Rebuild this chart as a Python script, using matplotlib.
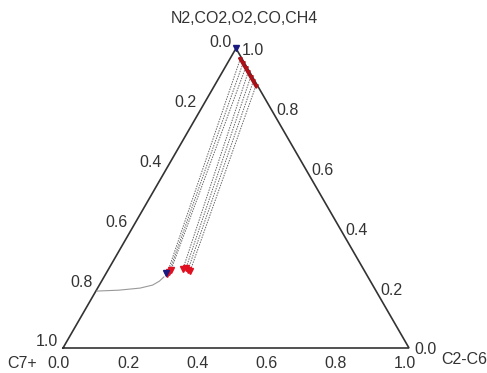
import matplotlib

matplotlib.use("Agg")

import numpy as np
import matplotlib.pyplot as plt

plt.rcParams['font.family'] = ['Liberation Sans', 'DejaVu Sans']

# fractions: top component (N2,CO2,O2,CO,CH4) and C2-C6; C7+ is the rest
vap_top = [0.965, 0.95, 0.935, 0.92, 0.905, 0.89, 0.875]
vap_c26 = [0.030, 0.045, 0.060, 0.075, 0.090, 0.105, 0.120]
liq_top = [0.247, 0.253, 0.260, 0.263, 0.267, 0.260, 0.257]
liq_c26 = [0.177, 0.180, 0.182, 0.215, 0.222, 0.231, 0.239]
blue_top = [1.0, 0.25]
blue_c26 = [0.0, 0.173]
curve_top = [0.190, 0.193, 0.200, 0.210, 0.223, 0.237]
curve_c26 = [0.003, 0.065, 0.123, 0.154, 0.167, 0.173]
ticks = [0.0, 0.2, 0.4, 0.6, 0.8, 1.0]

H = np.sqrt(3) / 2
S = 346.0  # pixels per unit


def xy(top, c26):
    top = np.asarray(top, dtype=float)
    c26 = np.asarray(c26, dtype=float)
    return c26 + top / 2, top * H


fig = plt.figure(figsize=(4.87, 3.73), dpi=100)
ax = fig.add_axes([0, 0, 1, 1])
ax.set_xlim(-63 / S, (487 - 63) / S)
ax.set_ylim((348 - 373) / S, 348 / S)
ax.axis('off')

tc = '#333333'
fs = 11.5

# triangle
tx, ty = xy([0, 0, 1, 0], [0, 1, 0, 0])
ax.plot(tx, ty, color='#333333', lw=1.2, solid_joinstyle='miter')

# tie lines
vx, vy = xy(vap_top, vap_c26)
lx, ly = xy(liq_top, liq_c26)
for i in range(len(vx)):
    ax.plot([vx[i], lx[i]], [vy[i], ly[i]], color='#666666', lw=0.7,
            linestyle=(0, (1.5, 1.2)))

# curve
cx, cy = xy(curve_top, curve_c26)
ax.plot(cx, cy, color='#999999', lw=0.8)

# markers
ax.plot(vx, vy, color='#a01018', lw=2.5)
ax.plot(vx, vy, 'v', color='#b01018', ms=2.5, mec='#b01018', ls='none')
ax.plot(lx, ly, 'v', color='#e01020', ms=5, mec='#e01020', ls='none')
bx, by = xy(blue_top, blue_c26)
ax.plot(bx, by, 'v', color='#1a1a80', ms=4, ls='none')

# tick labels
for t in ticks:
    # bottom axis: C2-C6
    x0, y0 = xy(0, t)
    ax.text(x0 - 4 / S, y0 - 16 / S, f'{t:.1f}', ha='center', va='center',
            fontsize=fs, color=tc)
    # left axis: C7+
    x0, y0 = xy(1 - t, 0)
    ax.text(x0 - 16 / S, y0 + 6 / S, f'{t:.1f}', ha='center', va='center',
            fontsize=fs, color=tc)
    # right axis: top component
    x0, y0 = xy(t, 1 - t)
    ax.text(x0 + 17 / S, y0 - 2 / S, f'{t:.1f}', ha='center', va='center',
            fontsize=fs, color=tc)

ax.text((244 - 63) / S, (348 - 18) / S, 'N2,CO2,O2,CO,CH4', ha='center',
        va='center', fontsize=fs, color=tc)
ax.text((22 - 63) / S, (348 - 364) / S, 'C7+', ha='center', va='center',
        fontsize=fs, color=tc)
ax.text((464 - 63) / S, (348 - 360) / S, 'C2-C6', ha='center', va='center',
        fontsize=fs, color=tc)

plt.savefig('out.png', dpi=100)
plt.close()
